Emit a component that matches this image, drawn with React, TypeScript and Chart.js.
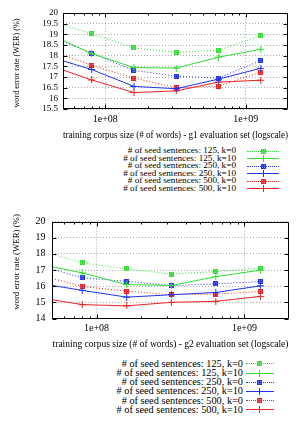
import React, { useEffect, useRef, useMemo } from 'react';
import { Chart, registerables } from 'chart.js';
Chart.register(...registerables);

// ---------- data ----------
const corpusSizes = [4e7, 8e7, 1.6e8, 3.2e8, 6.4e8, 1.28e9];

const seriesLabels = [
  '# of seed sentences: 125, k=0',
  '# of seed sentences: 125, k=10',
  '# of seed sentences: 250, k=0',
  '# of seed sentences: 250, k=10',
  '# of seed sentences: 500, k=0',
  '# of seed sentences: 500, k=10',
];

// g1 evaluation set
const g1_125_k0 = [19.65, 19.03, 18.36, 18.15, 18.26, 18.93];
const g1_125_k10 = [19.0, 18.1, 17.44, 17.42, 17.93, 18.3];
const g1_250_k0 = [18.94, 18.1, 17.31, 17.04, 16.95, 17.77];
const g1_250_k10 = [17.95, 17.35, 16.56, 16.45, 16.9, 17.41];
const g1_500_k0 = [18.28, 17.54, 16.95, 16.5, 16.57, 17.22];
const g1_500_k10 = [17.55, 16.86, 16.27, 16.35, 16.76, 16.85];

// g2 evaluation set
const g2_125_k0 = [18.24, 17.45, 17.07, 16.75, 16.9, 17.12];
const g2_125_k10 = [17.39, 16.82, 16.1, 16.04, 16.59, 16.99];
const g2_250_k0 = [17.3, 16.52, 16.3, 16.04, 16.14, 16.28];
const g2_250_k10 = [16.19, 15.74, 15.32, 15.47, 15.61, 16.02];
const g2_500_k0 = [16.72, 15.98, 15.69, 15.47, 15.51, 15.67];
const g2_500_k10 = [15.3, 14.86, 14.78, 15.0, 15.06, 15.37];

const g1YTicks = [15.5, 16, 16.5, 17, 17.5, 18, 18.5, 19, 19.5, 20];
const g2YTicks = [14, 15, 16, 17, 18, 19, 20];
const xTickValues = [1e8, 1e9];
const xTickLabels = ['1e+08', '1e+09'];

const g1Title = 'training corpus size (# of words) - g1 evaluation set (logscale)';
const g2Title = 'training corpus size (# of words) - g2 evaluation set (logscale)';
const yTitle = 'word error rate (WER) (%)';

// ---------- style ----------
const SERIF = "'Liberation Serif', 'Times New Roman', serif";
const GREEN = '#33dd33';
const BLUE = '#2233ee';
const RED = '#ee2222';
const seriesColors = [GREEN, GREEN, BLUE, BLUE, RED, RED];
const seriesDotted = [true, false, true, false, true, false];

function makeStarSquare(color: string): HTMLCanvasElement {
  const c = document.createElement('canvas');
  c.width = 5;
  c.height = 5;
  const ctx = c.getContext('2d')!;
  ctx.globalAlpha = 0.6;
  ctx.fillStyle = color;
  ctx.fillRect(0, 0, 5, 5);
  ctx.globalAlpha = 1;
  ctx.strokeStyle = color;
  ctx.lineWidth = 1;
  ctx.strokeRect(0.5, 0.5, 4, 4);
  ctx.beginPath();
  ctx.moveTo(2.5, 1);
  ctx.lineTo(2.5, 4);
  ctx.moveTo(1, 2.5);
  ctx.lineTo(4, 2.5);
  ctx.stroke();
  return c;
}

function makePlus(color: string): HTMLCanvasElement {
  const c = document.createElement('canvas');
  c.width = 7;
  c.height = 7;
  const ctx = c.getContext('2d')!;
  ctx.strokeStyle = color;
  ctx.lineWidth = 1;
  ctx.beginPath();
  ctx.moveTo(3.5, 0);
  ctx.lineTo(3.5, 7);
  ctx.moveTo(0, 3.5);
  ctx.lineTo(7, 3.5);
  ctx.stroke();
  return c;
}

function makeMarkers(): HTMLCanvasElement[] {
  return seriesColors.map((c, i) => (seriesDotted[i] ? makeStarSquare(c) : makePlus(c)));
}

const framePlugin = {
  id: 'frame',
  afterDraw(chart: any) {
    const { ctx, chartArea: a, scales } = chart;
    const L = Math.round(a.left) + 0.5;
    const R = Math.round(a.right) - 0.5;
    const T = Math.round(a.top) + 0.5;
    const B = Math.round(a.bottom) - 0.5;
    ctx.save();
    ctx.strokeStyle = '#000';
    ctx.lineWidth = 1;
    ctx.beginPath();
    ctx.rect(L, T, R - L, B - T);
    const ys = scales.y;
    ys.ticks.forEach((t: any) => {
      const py = Math.round(ys.getPixelForValue(t.value)) + 0.5;
      ctx.moveTo(L, py);
      ctx.lineTo(L + 4, py);
      ctx.moveTo(R, py);
      ctx.lineTo(R - 4, py);
    });
    const xs = scales.x;
    [1e7, 1e8, 1e9].forEach((dec) => {
      for (let m = 1; m <= 9; m++) {
        const v = m * dec;
        if (v <= xs.min || v >= xs.max) continue;
        const px = Math.round(xs.getPixelForValue(v)) + 0.5;
        const len = m === 1 ? 4 : 2;
        ctx.moveTo(px, B);
        ctx.lineTo(px, B - len);
        ctx.moveTo(px, T);
        ctx.lineTo(px, T + len);
      }
    });
    ctx.stroke();
    ctx.restore();
  },
};

type ChartProps = {
  top: number;
  height: number;
  padTop: number;
  padRight: number;
  yWidth: number;
  plotBottom: number;
  yTicks: number[];
  yFont: number;
  yPad: number;
  xPad: number;
  title: string;
  series: number[][];
  markers: HTMLCanvasElement[];
};

function WerChart(p: ChartProps) {
  const ref = useRef<HTMLCanvasElement>(null);
  useEffect(() => {
    const datasets = p.series.map((vals, i) => ({
      label: seriesLabels[i],
      data: vals.map((v, j) => ({ x: corpusSizes[j], y: v })),
      borderColor: seriesColors[i],
      backgroundColor: seriesColors[i],
      borderWidth: 1,
      borderDash: seriesDotted[i] ? [1, 2] : [],
      pointStyle: p.markers[i],
      pointRadius: 3.5,
      pointHoverRadius: 3.5,
      tension: 0,
      fill: false,
      clip: 0,
    }));
    const chart = new Chart(ref.current!, {
      type: 'line',
      data: { datasets },
      plugins: [framePlugin],
      options: {
        animation: false,
        responsive: false,
        maintainAspectRatio: false,
        devicePixelRatio: 1,
        layout: { padding: { left: 0, right: p.padRight, top: p.padTop, bottom: 0 } },
        plugins: { legend: { display: false }, tooltip: { enabled: false } },
        scales: {
          x: {
            type: 'logarithmic',
            min: 5e7,
            max: 2e9,
            afterBuildTicks: (s: any) => {
              s.ticks = xTickValues.map((v) => ({ value: v }));
            },
            afterFit: (s: any) => {
              s.height = p.height - p.plotBottom;
            },
            ticks: {
              autoSkip: false,
              maxRotation: 0,
              padding: p.xPad,
              color: '#000',
              font: { family: SERIF, size: 10 },
              callback: (_v: any, i: number) => xTickLabels[i],
            },
            grid: { color: '#aaa', lineWidth: 1, drawTicks: false },
            border: { display: false, dash: [1, 2] },
            title: {
              display: true,
              text: p.title,
              color: '#000',
              font: { family: SERIF, size: 9.5 },
              padding: { top: 0, bottom: 1 },
            },
          },
          y: {
            type: 'linear',
            min: p.yTicks[0],
            max: p.yTicks[p.yTicks.length - 1],
            afterBuildTicks: (s: any) => {
              s.ticks = p.yTicks.map((v) => ({ value: v }));
            },
            afterFit: (s: any) => {
              s.width = p.yWidth;
            },
            ticks: {
              autoSkip: false,
              padding: p.yPad,
              color: '#000',
              font: { family: SERIF, size: p.yFont },
              callback: (v: any) => String(v),
            },
            grid: { color: '#aaa', lineWidth: 1, drawTicks: false },
            border: { display: false, dash: [1, 2] },
          },
        },
      } as any,
    });
    return () => chart.destroy();
  }, []);
  return (
    <canvas
      ref={ref}
      width={299}
      height={p.height}
      style={{ position: 'absolute', left: 0, top: p.top, width: 299, height: p.height }}
    />
  );
}

type LegendProps = {
  firstCenter: number;
  step: number;
  fontSize: number;
  textRight: number;
  sampleLeft: number;
  sampleWidth: number;
  markers: HTMLCanvasElement[];
  markerUrls: string[];
};

function Legend(p: LegendProps) {
  return (
    <>
      {seriesLabels.map((lab, i) => {
        const cy = p.firstCenter + i * p.step;
        const mw = p.markers[i].width;
        return (
          <React.Fragment key={i}>
            <div
              style={{
                position: 'absolute',
                right: 299 - p.textRight,
                top: cy - p.step / 2,
                height: p.step,
                lineHeight: p.step + 'px',
                fontSize: p.fontSize,
                fontFamily: SERIF,
                whiteSpace: 'nowrap',
                color: '#000',
                textAlign: 'right',
              }}
            >
              {lab}
            </div>
            <div
              style={{
                position: 'absolute',
                left: p.sampleLeft,
                top: Math.round(cy),
                width: p.sampleWidth,
                height: 0,
                borderTop: `1px ${seriesDotted[i] ? 'dotted' : 'solid'} ${seriesColors[i]}`,
              }}
            />
            <img
              src={p.markerUrls[i]}
              style={{
                position: 'absolute',
                left: Math.round(p.sampleLeft + p.sampleWidth / 2 - mw / 2),
                top: Math.round(cy) - Math.floor(mw / 2),
                width: mw,
                height: mw,
                display: 'block',
              }}
            />
          </React.Fragment>
        );
      })}
    </>
  );
}

function YTitle({ cx, cy, size }: { cx: number; cy: number; size: number }) {
  return (
    <div
      style={{
        position: 'absolute',
        left: cx - 100,
        top: cy - 8,
        width: 200,
        height: 16,
        lineHeight: '16px',
        textAlign: 'center',
        fontFamily: SERIF,
        fontSize: size,
        color: '#000',
        whiteSpace: 'nowrap',
        transform: 'rotate(-90deg)',
      }}
    >
      {yTitle}
    </div>
  );
}

export default function App() {
  const markers = useMemo(() => makeMarkers(), []);
  const markerUrls = useMemo(() => markers.map((m) => m.toDataURL()), [markers]);
  const g1 = [g1_125_k0, g1_125_k10, g1_250_k0, g1_250_k10, g1_500_k0, g1_500_k10];
  const g2 = [g2_125_k0, g2_125_k10, g2_250_k0, g2_250_k10, g2_500_k0, g2_500_k10];
  return (
    <div style={{ position: 'absolute', left: 0, top: 0, width: 299, height: 422, background: '#fff', overflow: 'hidden' }}>
      <WerChart
        top={0}
        height={142}
        padTop={13}
        padRight={11}
        yWidth={63}
        plotBottom={109}
        yTicks={g1YTicks}
        yFont={9}
        yPad={5}
        xPad={4}
        title={g1Title}
        series={g1}
        markers={markers}
      />
      <YTitle cx={17} cy={63} size={8.2} />
      <Legend
        firstCenter={151}
        step={7.45}
        fontSize={9.2}
        textRight={236}
        sampleLeft={247}
        sampleWidth={32}
        markers={markers}
        markerUrls={markerUrls}
      />
      <WerChart
        top={209}
        height={142}
        padTop={12.5}
        padRight={10}
        yWidth={52}
        plotBottom={109.5}
        yTicks={g2YTicks}
        yFont={10}
        yPad={6.5}
        xPad={4}
        title={g2Title}
        series={g2}
        markers={markers}
      />
      <YTitle cx={16} cy={262} size={8.8} />
      <Legend
        firstCenter={363.3}
        step={9.2}
        fontSize={10.3}
        textRight={243}
        sampleLeft={245.5}
        sampleWidth={28}
        markers={markers}
        markerUrls={markerUrls}
      />
    </div>
  );
}
